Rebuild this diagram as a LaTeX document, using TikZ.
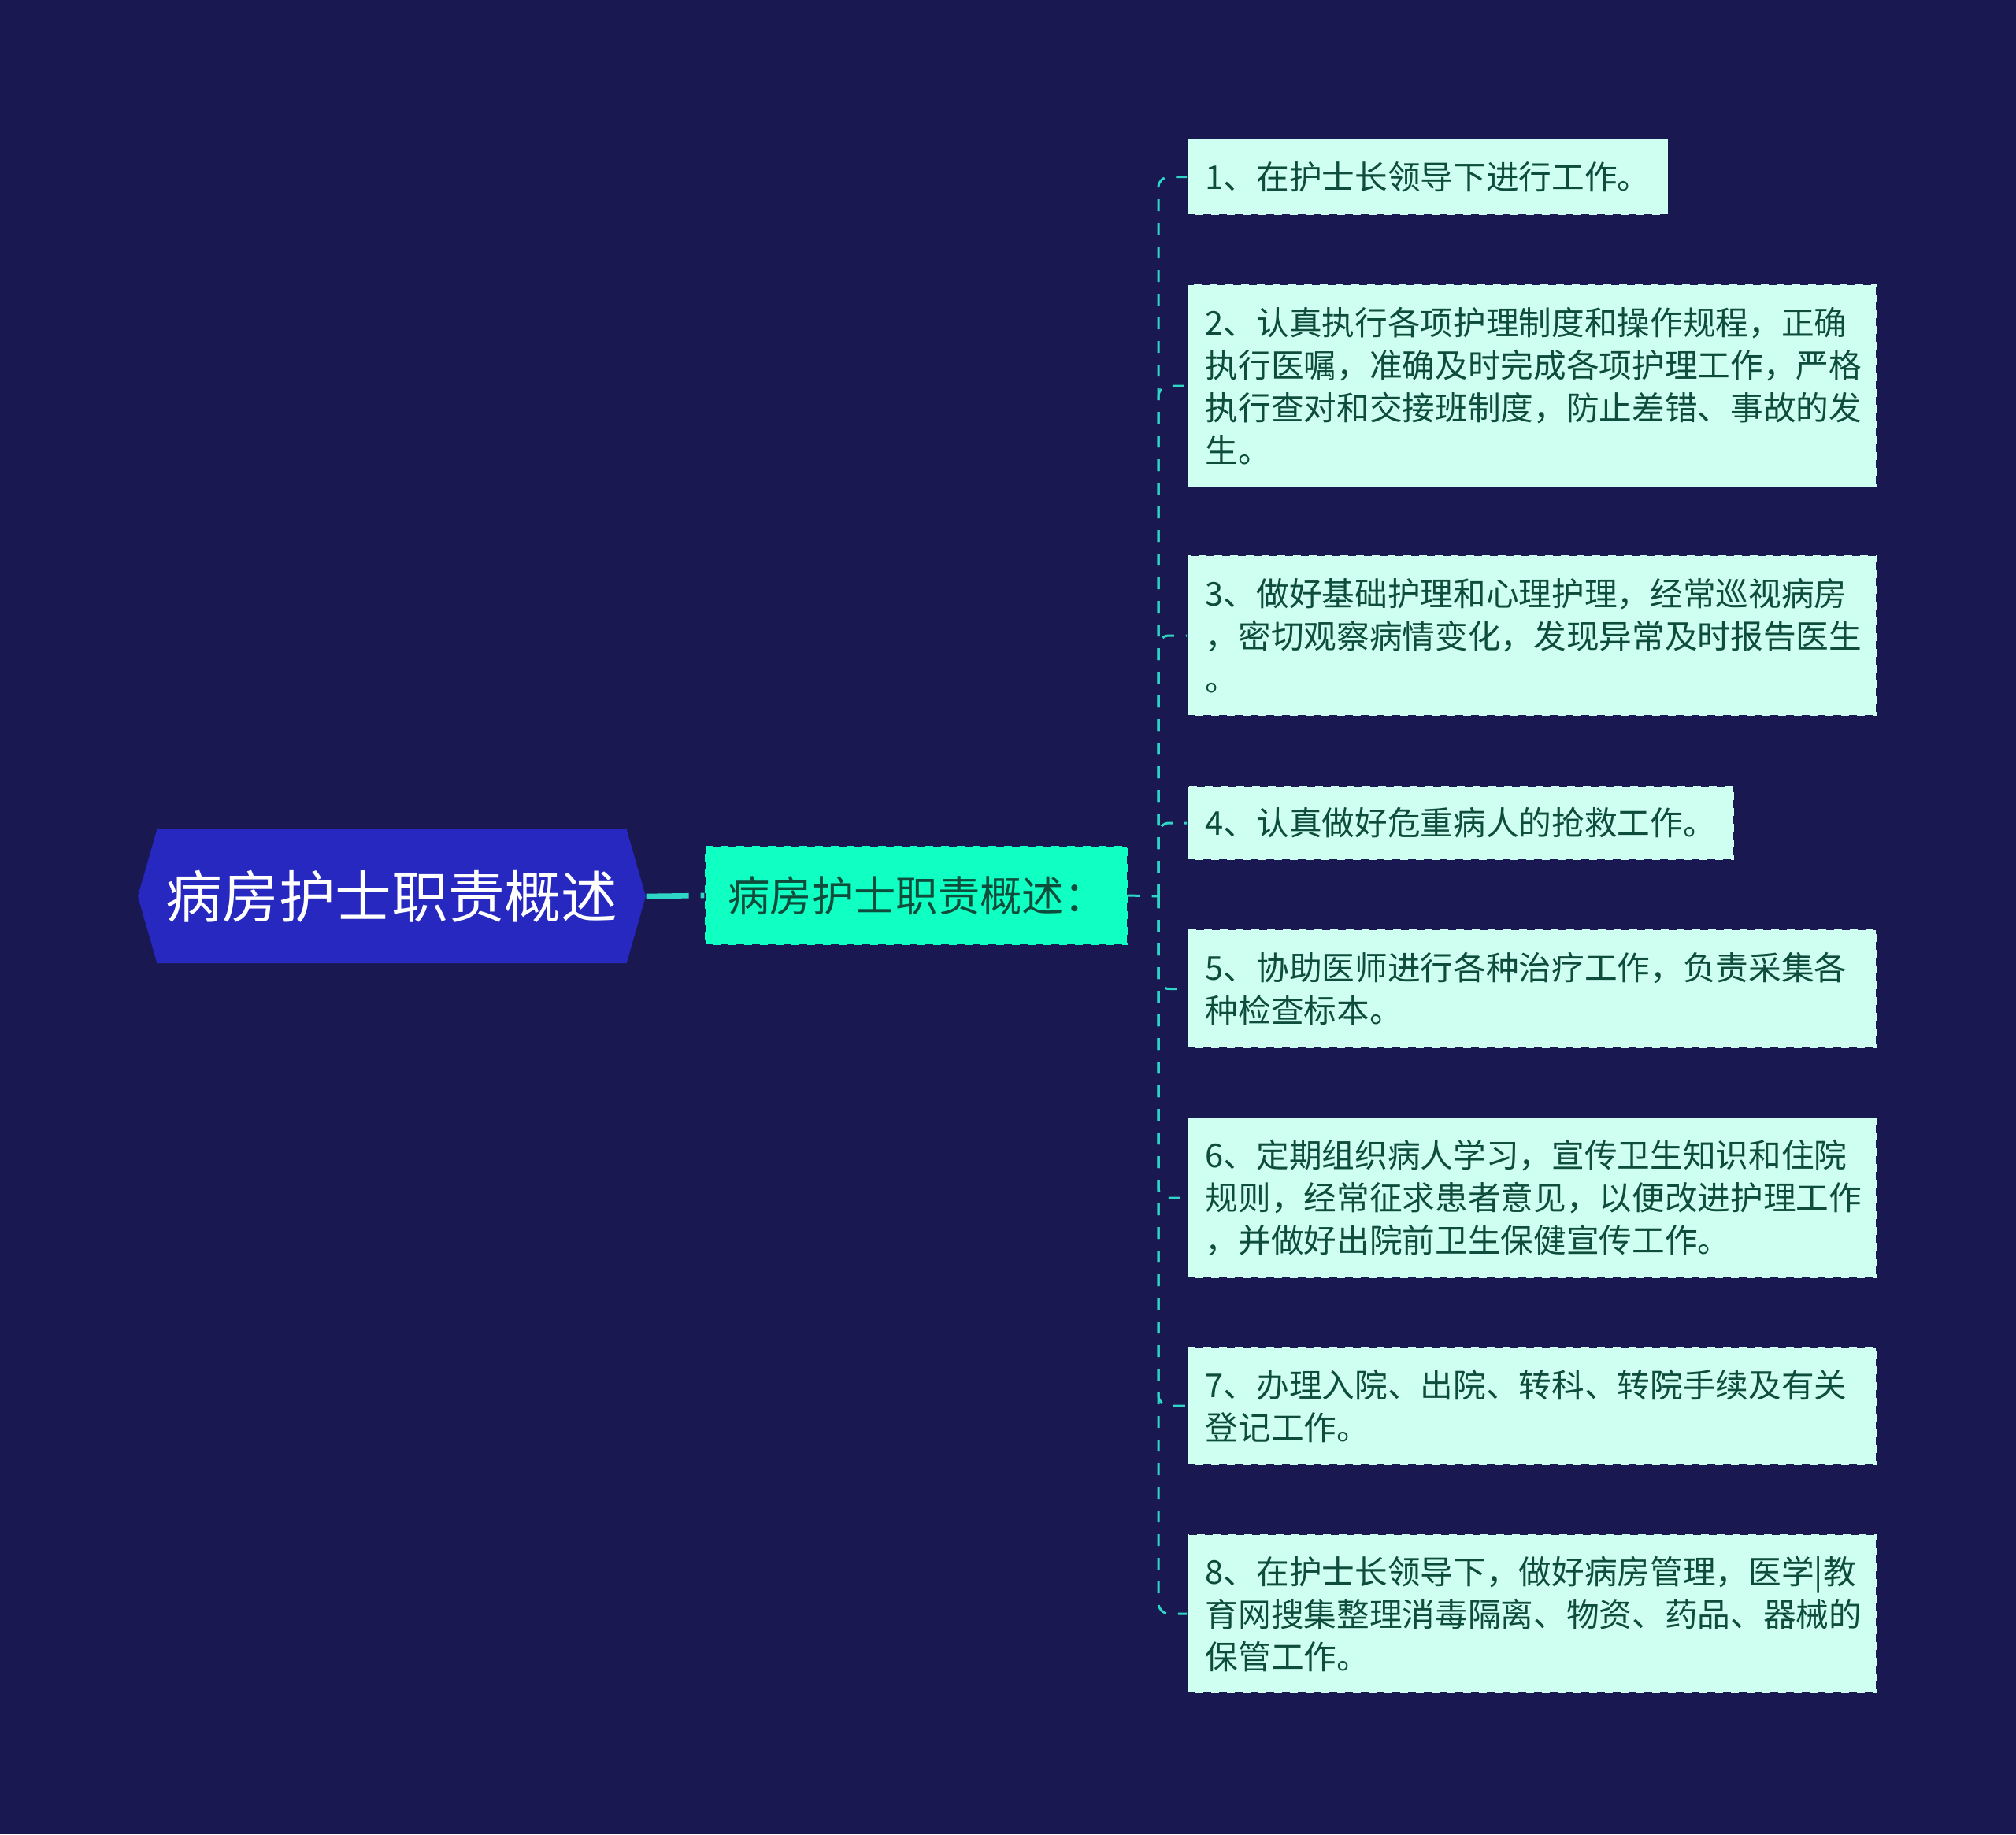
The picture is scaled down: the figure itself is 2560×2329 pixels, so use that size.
\documentclass[tikz,border=0pt]{standalone}
\usepackage{fontspec}
\newfontfamily\cjk{Noto Sans CJK SC}
\usetikzlibrary{shapes.symbols}
\definecolor{bgnavy}{RGB}{25,24,80}
\definecolor{rootblue}{RGB}{38,40,192}
\definecolor{midaqua}{RGB}{16,255,194}
\definecolor{leafmint}{RGB}{206,255,240}
\definecolor{linkaqua}{RGB}{46,214,200}
\definecolor{leaftext}{RGB}{14,77,60}
\begin{document}
\begin{tikzpicture}[x=0.3pt, y=-0.3pt, line join=round,
	rootnode/.style={shape=signal, signal to=west and east, signal pointer angle=148,
		fill=rootblue, text=white, minimum width=193.5pt, minimum height=51pt, inner sep=0pt,
		font=\cjk\fontsize{21.5}{25}\selectfont},
	midnode/.style={fill=midaqua, draw=bgnavy, dashed, text=leaftext, text width=143.5pt, align=left,
		minimum height=37.8pt, inner xsep=8.8pt, inner ysep=0pt, font=\cjk\fontsize{16}{19}\selectfont},
	leafbox/.style={fill=leafmint, draw=bgnavy, dashed, text=leaftext, anchor=west, align=left,
		inner xsep=6.9pt, inner ysep=0pt, font=\cjk\fontsize{12.5}{16.2}\selectfont},
	wideleaf/.style={leafbox, text width=248.7pt},
	rootlink/.style={draw=linkaqua, line width=2pt, dash pattern=on 16.2pt off 4.5pt},
	branchline/.style={draw=linkaqua, line width=0.9pt, dash pattern=on 4.5pt off 4.5pt, rounded corners=4pt}]
	\fill[bgnavy] (0, 0) rectangle (2560, 2329);
	\useasboundingbox (0, 0) rectangle (2560, 2329);
	% root and summary
	\node[rootnode] (root) at (497.5, 1138) {病房护士职责概述};
	\node[midnode] (mid) at (1163.5, 1137) {病房护士职责概述：};
	\coordinate (bus) at (1471, 1138);
	% duties
	\node[leafbox, minimum height=29.1pt] (leaf1) at (1507, 224.5) {1、在护士长领导下进行工作。};
	\node[wideleaf, minimum height=77.4pt] (leaf2) at (1507, 490) {2、认真执行各项护理制度和操作规程，正确\\执行医嘱，准确及时完成各项护理工作，严格\\执行查对和交接班制度，防止差错、事故的发\\生。};
	\node[wideleaf, minimum height=61.2pt] (leaf3) at (1507, 807) {3、做好基础护理和心理护理，经常巡视病房\\，密切观察病情变化，发现异常及时报告医生\\。};
	\node[leafbox, minimum height=28.2pt] (leaf4) at (1507, 1045) {4、认真做好危重病人的抢救工作。};
	\node[wideleaf, minimum height=45.3pt] (leaf5) at (1507, 1255.5) {5、协助医师进行各种治疗工作，负责采集各\\种检查标本。};
	\node[wideleaf, minimum height=61.2pt] (leaf6) at (1507, 1521) {6、定期组织病人学习，宣传卫生知识和住院\\规则，经常征求患者意见，以便改进护理工作\\，并做好出院前卫生保健宣传工作。};
	\node[wideleaf, minimum height=45pt] (leaf7) at (1507, 1785) {7、办理入院、出院、转科、转院手续及有关\\登记工作。};
	\node[wideleaf, minimum height=60.6pt] (leaf8) at (1507, 2049) {8、在护士长领导下，做好病房管理，医学|教\\育网搜集整理消毒隔离、物资、药品、器械的\\保管工作。};
	% links
	\draw[rootlink] (root.east) -- (mid.west);
	\draw[branchline] (mid.east) -- (bus);
	\foreach \i in {1,...,8}
		\draw[branchline] (bus) |- (leaf\i.west);
\end{tikzpicture}
\end{document}
